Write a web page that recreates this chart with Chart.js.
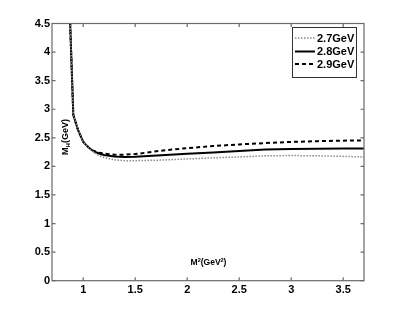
<!DOCTYPE html>
<html>
<head>
<meta charset="utf-8">
<script src="https://cdn.jsdelivr.net/npm/chart.js@4.4.1/dist/chart.umd.min.js"></script>
<style>
html,body{margin:0;padding:0;background:#fff;}
#wrap{width:402px;height:316px;}
</style>
</head>
<body>
<div id="wrap"><canvas id="c" width="402" height="316"></canvas></div>
<script>
// ---- data ----
const xValues = [0.865, 0.905, 0.95, 1.0, 1.05, 1.1, 1.15, 1.2, 1.3, 1.4, 1.5, 1.75, 2.0, 2.25, 2.5, 2.75, 3.0, 3.25, 3.5, 3.7];
const s27 = [5.0, 2.9, 2.64, 2.43, 2.325, 2.25, 2.19, 2.155, 2.115, 2.1, 2.1, 2.11, 2.13, 2.15, 2.165, 2.185, 2.19, 2.185, 2.175, 2.165];
const s28 = [5.0, 2.9, 2.64, 2.43, 2.33, 2.265, 2.225, 2.2, 2.175, 2.165, 2.17, 2.195, 2.22, 2.245, 2.27, 2.295, 2.305, 2.31, 2.315, 2.315];
const s29 = [5.0, 2.9, 2.64, 2.43, 2.335, 2.27, 2.24, 2.225, 2.205, 2.205, 2.215, 2.275, 2.32, 2.355, 2.385, 2.408, 2.428, 2.442, 2.45, 2.455];
const seriesLabels = ['2.7GeV', '2.8GeV', '2.9GeV'];
const xTicks = [1, 1.5, 2, 2.5, 3, 3.5];
const yTicks = [0, 0.5, 1, 1.5, 2, 2.5, 3, 3.5, 4, 4.5];

const toPts = arr => xValues.map((x, i) => ({x: x, y: arr[i]}));
const FONT = '"Liberation Sans", Arial, Helvetica, sans-serif';

const framePlugin = {
  id: 'frame',
  afterDraw(chart) {
    const ctx = chart.ctx, a = chart.chartArea;
    const xs = chart.scales.x, ys = chart.scales.y;
    ctx.save();
    ctx.strokeStyle = '#6a6a6a';
    ctx.lineWidth = 1.2;
    ctx.strokeRect(a.left, a.top, a.right - a.left, a.bottom - a.top);
    const tl = 3.5;
    ctx.beginPath();
    xs.ticks.forEach(t => {
      const px = xs.getPixelForValue(t.value);
      ctx.moveTo(px, a.bottom); ctx.lineTo(px, a.bottom - tl);
      ctx.moveTo(px, a.top); ctx.lineTo(px, a.top + tl);
    });
    ys.ticks.forEach(t => {
      const py = ys.getPixelForValue(t.value);
      ctx.moveTo(a.left, py); ctx.lineTo(a.left + tl, py);
      ctx.moveTo(a.right, py); ctx.lineTo(a.right - tl, py);
    });
    ctx.stroke();

    // y title: M_H(GeV)
    ctx.fillStyle = '#000';
    ctx.save();
    ctx.translate(68, 137);
    ctx.rotate(-Math.PI / 2);
    ctx.textBaseline = 'alphabetic';
    const big = 'bold 9px ' + FONT, small = 'bold 6px ' + FONT;
    ctx.font = big; const wM = ctx.measureText('M').width; const wR = ctx.measureText('(GeV)').width;
    ctx.font = small; const wH = ctx.measureText('H').width;
    let x0 = -(wM + wH + wR) / 2;
    ctx.font = big; ctx.fillText('M', x0, 0);
    ctx.font = small; ctx.fillText('H', x0 + wM, 2);
    ctx.font = big; ctx.fillText('(GeV)', x0 + wM + wH, 0);
    ctx.restore();

    // x title: M^2(GeV^2)
    const b8 = 'bold 8.5px ' + FONT, s5 = 'bold 5.5px ' + FONT;
    const parts = [['M', b8, 0], ['2', s5, -3.5], ['(GeV', b8, 0], ['2', s5, -3.5], [')', b8, 0]];
    let tw = 0;
    parts.forEach(p => { ctx.font = p[1]; p.push(ctx.measureText(p[0]).width); tw += p[3]; });
    let cx = 208.5 - tw / 2;
    ctx.textBaseline = 'alphabetic';
    parts.forEach(p => { ctx.font = p[1]; ctx.fillText(p[0], cx, 265 + p[2]); cx += p[3]; });

    // legend
    const lx = 292.5, ly = 27.5, lw = 64, lh = 50;
    ctx.fillStyle = '#fff';
    ctx.fillRect(lx, ly, lw, lh);
    ctx.strokeStyle = '#333';
    ctx.lineWidth = 1;
    ctx.strokeRect(lx, ly, lw, lh);
    const rows = [38, 51.5, 64];
    chart.data.datasets.forEach((ds, i) => {
      const y = rows[i];
      ctx.save();
      ctx.strokeStyle = ds.borderColor;
      ctx.lineWidth = ds.borderWidth;
      ctx.setLineDash(ds.borderDash || []);
      ctx.beginPath();
      ctx.moveTo(295, y); ctx.lineTo(315, y);
      ctx.stroke();
      ctx.restore();
      ctx.fillStyle = '#000';
      ctx.font = 'bold 11px ' + FONT;
      ctx.textBaseline = 'middle';
      ctx.fillText(ds.label, 317, y + 0.5);
    });
    ctx.restore();
  }
};

new Chart(document.getElementById('c'), {
  type: 'line',
  data: {
    datasets: [
      {label: seriesLabels[0], data: toPts(s27), borderColor: '#8a8a8a', borderWidth: 1.5, borderDash: [1.5, 1.5], pointRadius: 0, tension: 0, fill: false},
      {label: seriesLabels[1], data: toPts(s28), borderColor: '#000', borderWidth: 2, borderDash: [], pointRadius: 0, tension: 0, fill: false},
      {label: seriesLabels[2], data: toPts(s29), borderColor: '#000', borderWidth: 2, borderDash: [4, 3], pointRadius: 0, tension: 0, fill: false}
    ]
  },
  options: {
    responsive: false,
    animation: false,
    devicePixelRatio: 1,
    layout: {padding: {left: 0, right: 38, top: 23.5, bottom: 0}},
    plugins: {legend: {display: false}, tooltip: {enabled: false}},
    scales: {
      x: {
        type: 'linear', min: 0.7, max: 3.7,
        grid: {display: false, drawTicks: false},
        border: {display: false},
        afterBuildTicks: s => { s.ticks = xTicks.map(v => ({value: v})); },
        afterFit: s => { s.height = 316 - 23.5 - 257.2; },
        ticks: {color: '#000', font: {family: FONT, size: 11, weight: 'bold'}, padding: 3, maxRotation: 0,
                callback: v => String(v)}
      },
      y: {
        type: 'linear', min: 0, max: 4.5,
        grid: {display: false, drawTicks: false},
        border: {display: false},
        afterBuildTicks: s => { s.ticks = yTicks.map(v => ({value: v})); },
        afterFit: s => { s.width = 52; },
        ticks: {color: '#000', font: {family: FONT, size: 11, weight: 'bold'}, padding: 2,
                callback: v => String(v)}
      }
    }
  },
  plugins: [framePlugin]
});
</script>
</body>
</html>
